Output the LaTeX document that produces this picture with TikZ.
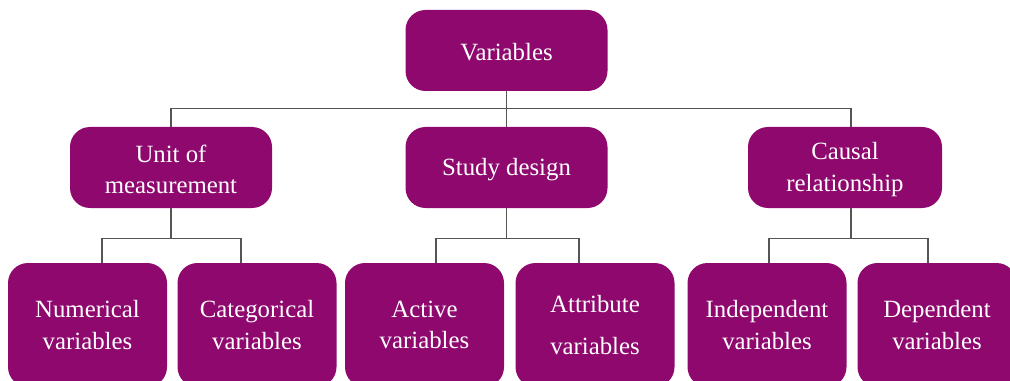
\documentclass[tikz,border=0pt]{standalone}
\usepackage{fontspec}
\setmainfont{Liberation Serif}
\usetikzlibrary{calc}
\definecolor{plum}{RGB}{142,8,110}
\definecolor{wire}{RGB}{85,85,85}
\newcommand{\hstrut}{\rule{0pt}{16pt}}
\tikzset{
	box/.style={rectangle,rounded corners=15pt,fill=plum,text=white,align=center,inner sep=2pt,font=\fontsize{18.6}{23.5}\selectfont},
	head/.style={box,minimum width=151.5pt,minimum height=60.75pt},
	leaf/.style={box,minimum width=119.25pt,minimum height=93pt},
	link/.style={draw=wire,line width=1.1pt}
}

\begin{document}
\begin{tikzpicture}[x=0.75pt,y=-0.75pt]
		\useasboundingbox (0,0) rectangle (1010,381);
		\clip (0,0) rectangle (1010,381);
		
		\node[head] (var) at (506.5,50.5) {\hstrut Variables};
		
		\node[head] (unit) at (171,167.5) {\hstrut Unit of\\measurement};
		\node[head] (study) at (506.5,167.5) {\hstrut Study design};
		\node[head,minimum width=145.5pt] (cause) at (845,167.5) {\hstrut Causal\\relationship};
		
		\node[leaf] (num) at (87.5,325) {Numerical\\variables};
		\node[leaf] (cat) at (257,325) {Categorical\\variables};
		\node[leaf] (act) at (424.5,325) {Active\\variables};
		\node[leaf] (att) at (595,325) {Attribute\\[8.5pt]variables};
		\node[leaf] (ind) at (767,325) {Independent\\variables};
		\node[leaf] (dep) at (937,325) {Dependent\\variables};
		
		% first level
		\draw[link] (var.south) -- ++(0,17.5) -| (unit.north);
		\draw[link] (var.south) -- (study.north);
		\draw[link] (var.south) -- ++(0,17.5) -| ($(cause.north)+(6,0)$);
		
		% second level
		\draw[link] (unit.south) -- ++(0,30) -| ($(num.north)+(14.5,0)$);
		\draw[link] (unit.south) -- ++(0,30) -| ($(cat.north)+(-16,0)$);
		\draw[link] (study.south) -- ++(0,30) -| ($(act.north)+(11.5,0)$);
		\draw[link] (study.south) -- ++(0,30) -| ($(att.north)+(-16,0)$);
		\draw[link] ($(cause.south)+(6,0)$) -- ++(0,30) -| ($(ind.north)+(2,0)$);
		\draw[link] ($(cause.south)+(6,0)$) -- ++(0,30) -| ($(dep.north)+(-9,0)$);
\end{tikzpicture}
\end{document}
